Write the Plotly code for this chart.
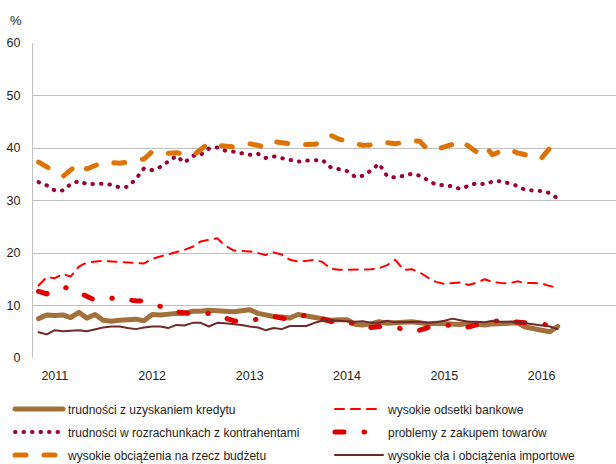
import pandas as pd
import plotly.graph_objects as go

# Monthly observations, Nov 2010 - Mar 2016 (share of firms, %)
months = pd.date_range("2010-11-01", periods=65, freq="MS")

kredyt = [7.5, 8.2, 8.1, 8.2, 7.7, 8.7, 7.6, 8.3, 7.2, 7.0,
          7.2, 7.4, 7.4, 7.1, 8.3, 8.2, 8.4, 8.5, 8.5, 8.9,
          8.9, 9.1, 9.0, 8.9, 8.8, 9.0, 9.2, 8.5, 8.1, 7.9,
          7.8, 7.6, 8.3, 8.0, 7.8, 7.5, 7.2, 7.3, 7.3, 6.4,
          6.3, 6.5, 6.9, 6.6, 6.6, 6.8, 6.9, 6.7, 6.5, 6.6,
          6.5, 6.3, 6.4, 6.6, 6.4, 6.3, 6.5, 6.6, 6.7, 6.7,
          5.9, 5.5, 5.3, 5.0, 6.0]

odsetki = [13.8, 15.4, 15.2, 16.0, 15.5, 17.4, 18.2, 18.4, 18.5, 18.4,
           18.3, 18.2, 18.2, 18.0, 18.9, 19.3, 19.7, 20.2, 20.6, 21.2,
           22.2, 22.5, 22.8, 21.4, 20.5, 20.4, 20.3, 20.0, 19.6, 20.1,
           19.7, 18.7, 18.4, 18.5, 18.7, 18.3, 17.0, 16.8, 16.8, 16.8,
           16.9, 16.9, 17.1, 17.7, 18.7, 16.8, 16.9, 16.3, 15.3, 14.5,
           14.1, 14.3, 14.4, 13.9, 14.3, 15.0, 14.5, 14.3, 14.2, 14.6,
           14.3, 14.3, 14.2, 13.7, 13.4]

rozrachunki = [33.5, 32.9, 31.9, 31.9, 33.1, 33.7, 33.1, 33.2, 33.2, 33.0,
               32.5, 32.6, 34.1, 36.1, 35.8, 36.4, 37.4, 38.5, 37.2, 38.5,
               38.7, 39.9, 40.1, 39.5, 39.3, 39.0, 38.7, 38.9, 38.1, 38.4,
               38.1, 37.6, 37.4, 37.6, 37.7, 37.7, 36.3, 35.9, 35.6, 34.5,
               34.7, 35.7, 37.0, 34.6, 34.4, 34.7, 35.1, 34.7, 33.8, 33.0,
               32.9, 32.7, 32.2, 32.7, 33.3, 33.1, 33.6, 33.7, 33.3, 32.8,
               32.0, 31.9, 31.8, 31.4, 30.4]

zakup = [12.7, 12.2, 13.0, 13.5, 13.2, 12.4, 11.6, 11.0, 11.1, 11.4,
         11.2, 11.0, 10.9, 10.85, 10.3, 9.7, 9.2, 8.8, 8.6, 8.4,
         8.5, 8.5, 8.1, 7.5, 7.1, 6.9, 7.1, 7.4, 7.7, 7.9,
         7.6, 7.4, 7.8, 8.2, 7.8, 7.4, 6.9, 6.6, 6.7, 6.6,
         6.2, 5.8, 6.0, 6.0, 5.8, 5.5, 5.4, 5.3, 5.8, 6.1,
         6.2, 6.3, 6.0, 5.9, 6.3, 6.7, 7.0, 7.1, 6.9, 6.8,
         6.7, 6.6, 6.5, 6.3, 6.1]

budzet = [37.3, 36.3, 35.5, 34.6, 35.9, 37.1, 36.0, 36.6, 37.3, 37.2,
          37.1, 37.3, 37.5, 37.9, 39.3, 38.9, 39.0, 39.1, 38.8, 38.5,
          39.7, 40.9, 40.5, 40.3, 40.2, 40.4, 40.8, 40.5, 40.1, 41.2,
          41.1, 40.8, 40.6, 40.6, 40.7, 41.1, 42.4, 41.7, 41.3, 40.9,
          40.5, 40.6, 41.1, 41.0, 40.8, 41.1, 41.4, 41.3, 39.6, 39.7,
          40.1, 40.7, 41.5, 40.5, 39.3, 40.5, 38.7, 39.4, 39.8, 39.1,
          38.7, 38.9, 38.1, 40.0, 39.7]

cla = [4.9, 4.5, 5.3, 5.1, 5.2, 5.3, 5.1, 5.5, 5.8, 6.0,
       6.0, 5.7, 5.5, 5.8, 6.0, 6.0, 5.7, 6.3, 6.2, 6.7,
       6.7, 6.0, 6.7, 6.6, 6.5, 6.3, 6.0, 5.8, 5.3, 5.7,
       5.5, 6.1, 6.1, 6.1, 6.7, 7.1, 7.2, 7.1, 6.9, 6.9,
       7.0, 6.7, 6.7, 7.1, 6.8, 6.8, 6.8, 6.9, 6.7, 6.8,
       7.1, 7.5, 7.2, 6.9, 6.9, 6.8, 7.1, 6.9, 6.9, 6.9,
       6.6, 6.4, 6.2, 6.0, 5.5]

names = [
    "trudności z uzyskaniem kredytu",
    "wysokie odsetki bankowe",
    "trudności w rozrachunkach z kontrahentami",
    "problemy z zakupem towarów",
    "wysokie obciążenia na rzecz budżetu",
    "wysokie cła i obciążenia importowe",
]

FONT = "Liberation Sans, Arial, sans-serif"
TEXT = "#1e1e1e"

series = [
    # values, colour, width, dash, legend column
    (kredyt, "#A2703A", 5, "solid", "legend"),
    (odsetki, "#FF0000", 2, "9px,7px", "legend2"),
    (rozrachunki, "#990033", 4, "0.5px,8px", "legend"),
    (zakup, "#DD0000", 5, "9px,20px,0.5px,19.5px", "legend2"),
    (budzet, "#DE7305", 5, "11px,18px", "legend"),
    (cla, "#6E2A2A", 2, "solid", "legend2"),
]

fig = go.Figure()
for name, (vals, color, width, dash, leg) in zip(names, series):
    fig.add_trace(go.Scatter(
        x=months, y=vals, name=name, mode="lines",
        line=dict(color=color, width=width, dash=dash),
        legend=leg, legendgroup=name,
    ))

legend_common = dict(
    orientation="v", xref="container", yref="container",
    xanchor="left", yanchor="top", y=1 - 394.5 / 464,
    itemwidth=48, tracegroupgap=4, bgcolor="rgba(0,0,0,0)",
    font=dict(family=FONT, size=12, color=TEXT),
)

fig.update_layout(
    width=616, height=464,
    margin=dict(l=33, r=0, t=43, b=106, autoexpand=False),
    paper_bgcolor="white", plot_bgcolor="white",
    font=dict(family=FONT, size=12.5, color=TEXT),
    legend=dict(x=10 / 616, **legend_common),
    legend2=dict(x=330 / 616, **legend_common),
    xaxis=dict(
        type="date",
        range=["2010-10-11", "2016-10-06"],
        tick0="2011-01-01", dtick="M12", tickformat="%Y",
        showgrid=False, zeroline=False, showline=False,
        ticks="", ticklabelstandoff=8,
        tickfont=dict(family=FONT, size=12.5, color=TEXT),
    ),
    yaxis=dict(
        range=[0, 60], dtick=10, tick0=0,
        showgrid=True, gridcolor="#C0C0C0", gridwidth=1.2,
        zeroline=False, showline=True, linecolor="#C0C0C0", linewidth=1.2,
        ticks="", ticklabelstandoff=9,
        tickfont=dict(family=FONT, size=12.5, color=TEXT),
    ),
    annotations=[dict(
        text="%", xref="paper", yref="paper",
        x=(16 - 33) / 583, y=1 + (43 - 20) / 315,
        xanchor="center", yanchor="middle", showarrow=False,
        font=dict(family=FONT, size=13, color=TEXT),
    )],
)

round_caps = (
    "var s=document.createElement('style');"
    "s.textContent='.js-line{stroke-linecap:round;stroke-linejoin:round;}';"
    "document.head.appendChild(s);"
)

fig.write_html("out.html", post_script=round_caps)
